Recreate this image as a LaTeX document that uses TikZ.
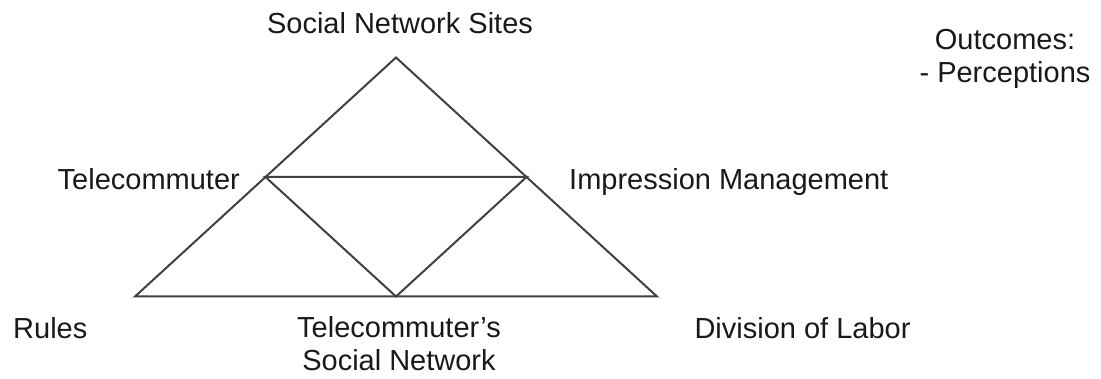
\documentclass[tikz,border=0pt]{standalone}
\usepackage{fontspec}
\setmainfont{Liberation Sans}
\begin{document}
\begin{tikzpicture}[x=1pt,y=-1pt,
  edge/.style={draw=black!75, line width=2pt, line join=miter},
  lbl/.style={inner sep=0pt, font=\fontsize{29}{33.5}\selectfont, text=black!90}]
\useasboundingbox (0,0) rectangle (1101,379);
% corners
\coordinate (apex) at (396,57.5);
\coordinate (lm) at (265.5,177);
\coordinate (rm) at (526.5,177);
\coordinate (bl) at (135,296.5);
\coordinate (bm) at (396,296.5);
\coordinate (br) at (657,296.5);
\draw[edge] (bl) -- (apex) -- (br) -- cycle;
\draw[edge] (lm) -- (rm) -- (bm) -- cycle;
% labels
\node[lbl, anchor=base] (sns) at (400,33.5) {Social Network Sites};
\node[lbl, anchor=base east] (tc) at (240,190) {Telecommuter};
\node[lbl, anchor=base west] (im) at (569,190) {Impression Management};
\node[lbl, anchor=base west] (ru) at (13,339) {Rules};
\node[lbl, anchor=base] (dl) at (802.5,339) {Division of Labor};
\node[lbl, anchor=base, align=center] (tsn) at (399,371) {Telecommuter’s\\Social Network};
\node[lbl, anchor=base, align=center] (oc) at (1005,83) {Outcomes:\\- Perceptions};
\end{tikzpicture}
\end{document}
